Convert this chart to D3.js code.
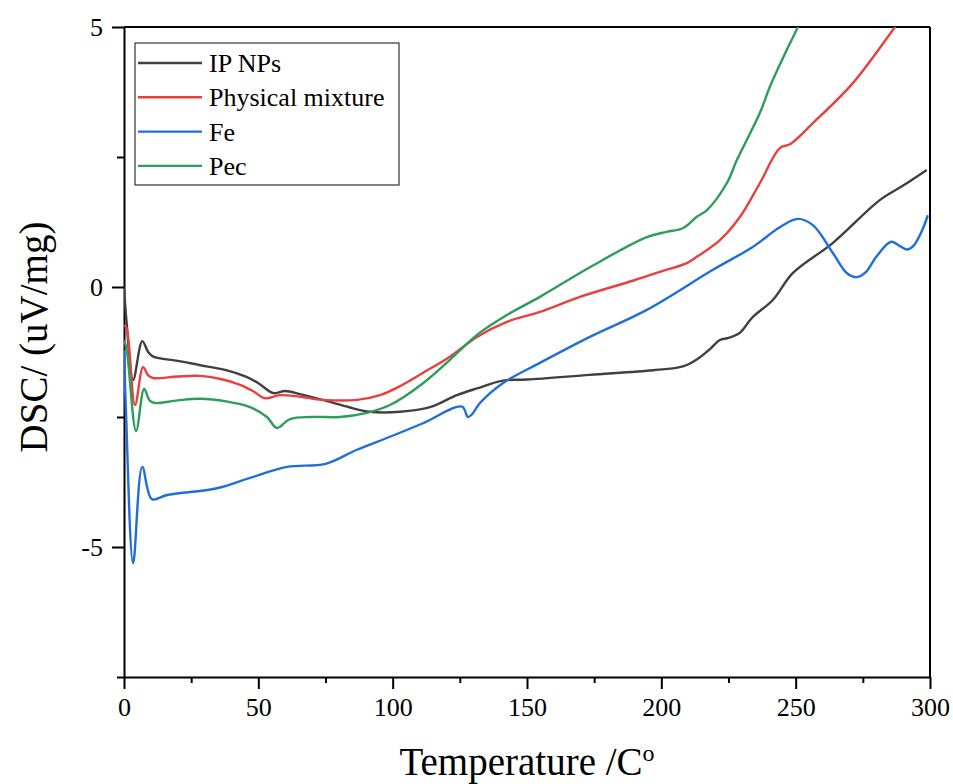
<!DOCTYPE html>
<html>
<head>
<meta charset="utf-8">
<script src="https://cdn.jsdelivr.net/npm/d3@7"></script>
<style>
  body { margin: 0; background: #fff; }
  svg { font-family: "Liberation Serif", "Times New Roman", serif; }
  .axis path, .axis line { stroke: #000; stroke-width: 2; }
  .axis text { font-size: 26px; fill: #000; font-family: "Liberation Serif", serif; }
</style>
</head>
<body>
<svg id="chart"></svg>
<script>
// Series names and colours
const seriesNames = ["IP NPs", "Physical mixture", "Fe", "Pec"];
const seriesColors = ["#404040", "#e8403e", "#1f6fd8", "#2e9c5a"];

// IP NPs
const tempIP = [0, 1, 3.4, 6.8, 9, 10.9, 20, 28, 38, 45.6, 50, 55.6, 60, 65.5, 76.7, 85, 91.5, 102.7, 113.9, 123.9, 131.4, 141, 150, 173.4, 197, 206, 209.5, 214.4, 218, 221.8, 225, 229, 234, 241.5, 249, 263.9, 281.3, 290, 298.8];
const dscIP = [0, -0.7, -1.79, -1.04, -1.25, -1.34, -1.42, -1.5, -1.6, -1.73, -1.85, -2.04, -2.0, -2.06, -2.21, -2.33, -2.4, -2.4, -2.31, -2.08, -1.95, -1.8, -1.78, -1.69, -1.6, -1.55, -1.5, -1.35, -1.2, -1.02, -0.98, -0.89, -0.58, -0.25, 0.27, 0.85, 1.67, 1.95, 2.25];

// Physical mixture
const tempPM = [0, 1, 4.1, 7.1, 9, 10.8, 20, 28.3, 36, 43.2, 48, 52.5, 58, 65.5, 74, 86.7, 95.3, 103, 111.3, 121.3, 131.4, 142.5, 154.8, 169.7, 190, 200, 209.5, 213.2, 221.8, 229.3, 236.7, 244.1, 248, 256.4, 271.3, 287, 290];
const dscPM = [-0.73, -0.8, -2.27, -1.54, -1.7, -1.75, -1.72, -1.71, -1.77, -1.88, -2.0, -2.14, -2.08, -2.11, -2.17, -2.17, -2.08, -1.9, -1.65, -1.34, -0.96, -0.67, -0.48, -0.19, 0.13, 0.3, 0.46, 0.58, 0.9, 1.35, 2.0, 2.67, 2.75, 3.15, 3.92, 5.0, 5.2];

// Fe
const tempFe = [0, 0.8, 3.4, 6.8, 10.4, 16, 34.6, 46.9, 60.7, 75, 86.7, 99, 111.3, 125.8, 128, 129.5, 132.5, 141, 154.8, 173.4, 194.6, 219.2, 234, 244.1, 250.8, 256.4, 263.9, 269, 272.8, 276, 280, 285.5, 289, 291.5, 294, 297, 299.2];
const dscFe = [-1.21, -2.5, -5.31, -3.46, -4.08, -4.0, -3.87, -3.67, -3.46, -3.4, -3.13, -2.88, -2.62, -2.3, -2.5, -2.45, -2.23, -1.85, -1.46, -0.96, -0.44, 0.33, 0.77, 1.15, 1.31, 1.19, 0.65, 0.27, 0.19, 0.28, 0.58, 0.87, 0.78, 0.72, 0.8, 1.08, 1.38];

// Pec
const tempPec = [0, 1, 4.5, 7.5, 9.5, 11.5, 20, 28.3, 38, 46.9, 53.2, 56.9, 61.8, 70, 80.4, 90.4, 99, 111.3, 121.3, 131.4, 142.5, 154.8, 173.4, 194.6, 202, 208, 213.2, 217, 224.4, 228.1, 236.7, 240.4, 246.7, 250.8, 253];
const dscPec = [-1.02, -1.2, -2.77, -1.96, -2.18, -2.23, -2.18, -2.15, -2.2, -2.31, -2.5, -2.71, -2.54, -2.5, -2.5, -2.42, -2.27, -1.85, -1.4, -0.92, -0.54, -0.19, 0.38, 0.96, 1.06, 1.13, 1.35, 1.48, 2.0, 2.44, 3.35, 3.85, 4.56, 5.0, 5.3];

const xTicks = [0, 50, 100, 150, 200, 250, 300];
const yTicks = [-5, 0, 5];

const seriesTemps = [tempIP, tempPM, tempFe, tempPec];
const seriesDsc = [dscIP, dscPM, dscFe, dscPec];

const width = 953, height = 784;
const margin = {top: 27, right: 23, bottom: 107, left: 124};
const innerW = width - margin.left - margin.right;
const innerH = height - margin.top - margin.bottom;

const svg = d3.select('#chart')
    .attr('width', width)
    .attr('height', height);

const chart = svg.append('g')
    .attr('transform', `translate(${margin.left},${margin.top})`);

const xScale = d3.scaleLinear().domain([0, 300]).range([0, innerW]);
const yScale = d3.scaleLinear().domain([-7.5, 5]).range([innerH, 0]);

// Clip the curves to the plot area
svg.append('defs').append('clipPath')
    .attr('id', 'plot-clip')
  .append('rect')
    .attr('width', innerW)
    .attr('height', innerH);

// Minor ticks
chart.append('g')
    .attr('class', 'axis')
    .attr('transform', `translate(0,${innerH})`)
    .call(d3.axisBottom(xScale).tickValues(d3.range(25, 300, 50)).tickSize(6).tickFormat(''))
    .call(g => g.select('.domain').remove());
chart.append('g')
    .attr('class', 'axis')
    .call(d3.axisLeft(yScale).tickValues([-7.5, -2.5, 2.5]).tickSize(7).tickFormat(''))
    .call(g => g.select('.domain').remove());

// Major axes (plain hyphen for negatives, as in the original)
chart.append('g')
    .attr('class', 'axis x-axis')
    .attr('transform', `translate(0,${innerH})`)
    .call(d3.axisBottom(xScale).tickValues(xTicks).tickSize(12).tickSizeOuter(0).tickPadding(9).tickFormat(d => String(d)));

chart.append('g')
    .attr('class', 'axis y-axis')
    .call(d3.axisLeft(yScale).tickValues(yTicks).tickSize(12).tickSizeOuter(0).tickPadding(9).tickFormat(d => String(d)));

// Top and right frame
chart.append('line')
    .attr('x1', 0).attr('x2', innerW).attr('y1', 0).attr('y2', 0)
    .attr('stroke', '#000').attr('stroke-width', 2);
chart.append('line')
    .attr('x1', innerW).attr('x2', innerW).attr('y1', 0).attr('y2', innerH)
    .attr('stroke', '#000').attr('stroke-width', 2);

// Curves
const line = d3.line()
    .x(d => xScale(d[0]))
    .y(d => yScale(d[1]))
    .curve(d3.curveCatmullRom.alpha(0.5));

const curves = chart.append('g').attr('clip-path', 'url(#plot-clip)');
seriesNames.forEach((name, i) => {
  const pts = seriesTemps[i].map((t, j) => [t, seriesDsc[i][j]]);
  curves.append('path')
      .datum(pts)
      .attr('fill', 'none')
      .attr('stroke', seriesColors[i])
      .attr('stroke-width', 2.4)
      .attr('stroke-linejoin', 'round')
      .attr('d', line);
});

// Legend
const legend = chart.append('g')
    .attr('transform', `translate(${135 - margin.left},${43 - margin.top})`);
legend.append('rect')
    .attr('width', 264)
    .attr('height', 142)
    .attr('fill', '#fff')
    .attr('stroke', '#333')
    .attr('stroke-width', 1.2);
seriesNames.forEach((name, i) => {
  const ly = 20 + i * 34.3;
  legend.append('line')
      .attr('x1', 3).attr('x2', 67)
      .attr('y1', ly).attr('y2', ly)
      .attr('stroke', seriesColors[i])
      .attr('stroke-width', 2.4);
  legend.append('text')
      .attr('x', 74)
      .attr('y', ly + 9)
      .attr('font-size', 26)
      .text(name);
});

// Axis titles
svg.append('text')
    .attr('x', margin.left + innerW / 2)
    .attr('y', 775)
    .attr('text-anchor', 'middle')
    .attr('font-size', 39)
    .text('Temperature /C')
  .append('tspan')
    .attr('font-size', 24)
    .attr('dy', -14)
    .text('o');

svg.append('text')
    .attr('transform', 'translate(47,337) rotate(-90)')
    .attr('text-anchor', 'middle')
    .attr('font-size', 39)
    .text('DSC/ (uV/mg)');
</script>
</body>
</html>
